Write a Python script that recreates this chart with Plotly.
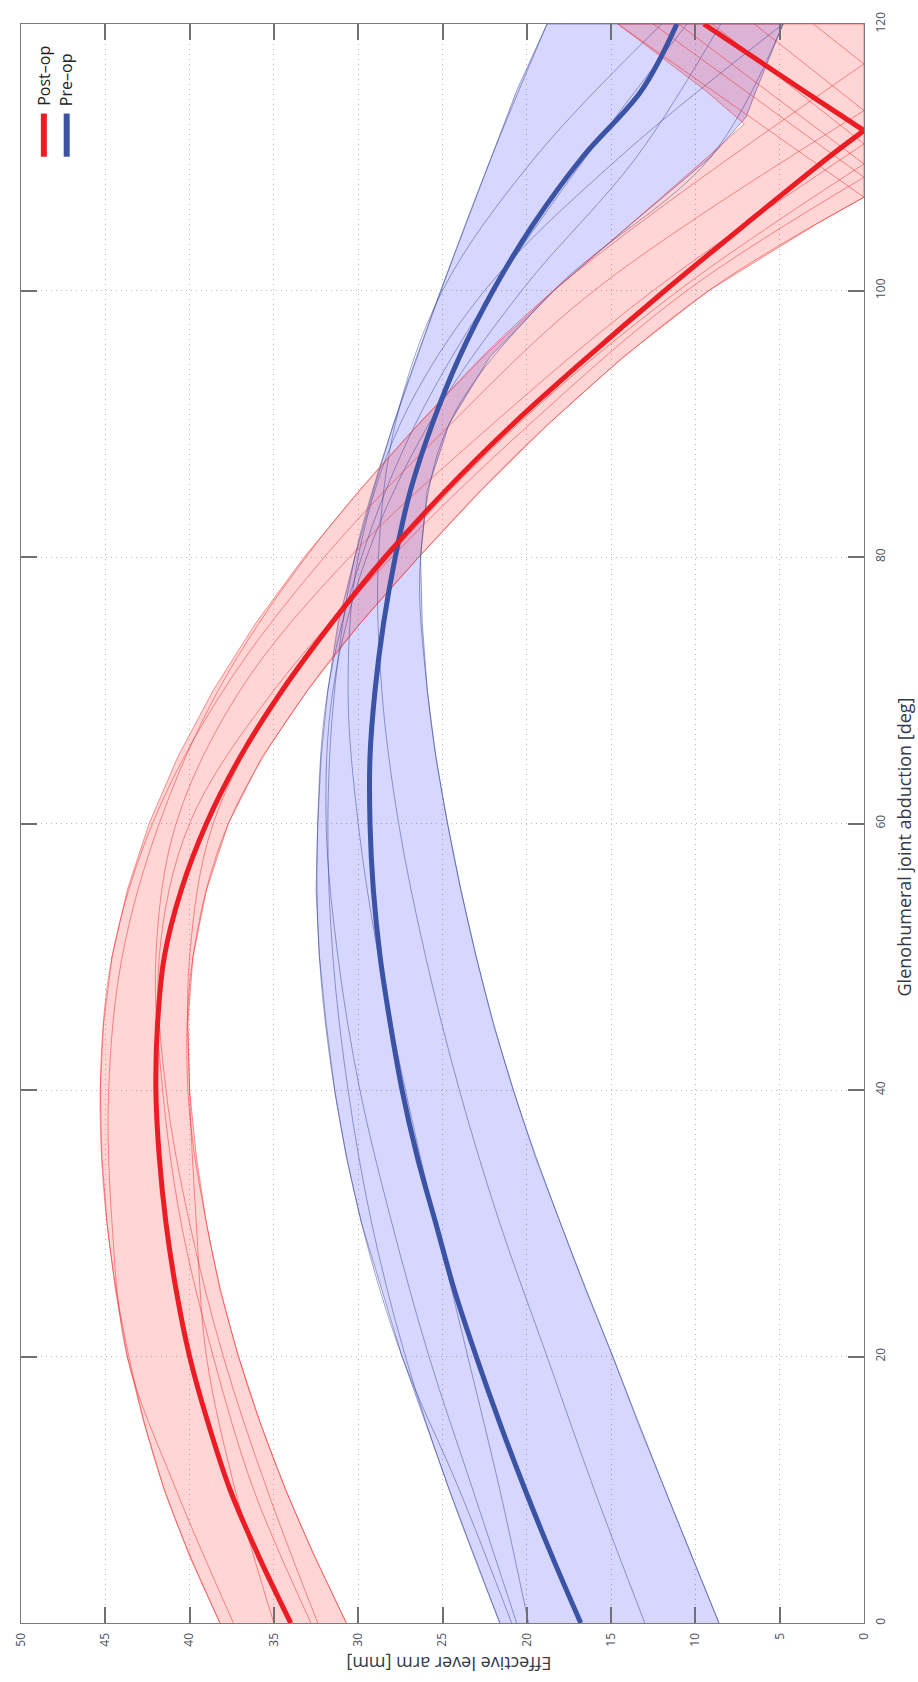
import plotly.graph_objects as go

# ---------------- data ----------------
# abduction angle [deg] on the vertical axis, lever arm [mm] on the horizontal axis

# Post-op band (envelope)
post_band_angle = [0, 5, 10, 15, 20, 25, 30, 35, 40, 45, 50, 55, 60, 65, 70, 75, 80, 85, 90, 95, 100, 105, 107, 110, 112.5, 115, 120]
post_band_hi = [38.2, 40.0, 41.5, 42.7, 43.7, 44.4, 44.9, 45.2, 45.3, 45.1, 44.6, 43.7, 42.4, 40.7, 38.6, 36.1, 33.2, 29.9, 26.4, 22.6, 18.4, 13.8, 12.0, 9.3, 7.1, 9.4, 14.6]
post_band_lo = [30.7, 32.6, 34.3, 35.8, 37.1, 38.2, 39.0, 39.6, 40.0, 40.1, 39.8, 39.0, 37.7, 35.7, 33.0, 29.9, 26.4, 22.7, 18.7, 14.3, 9.2, 2.8, 0.0, 0.0, 0.0, 0.0, 0.0]

# Pre-op band (envelope)
pre_band_angle = [0, 5, 10, 15, 20, 25, 30, 35, 40, 45, 50, 55, 60, 65, 70, 75, 80, 85, 90, 95, 100, 105, 110, 113, 115, 120]
pre_band_hi = [21.6, 23.1, 24.6, 26.0, 27.4, 28.6, 29.8, 30.7, 31.4, 31.9, 32.3, 32.5, 32.4, 32.2, 31.8, 31.2, 30.2, 29.1, 27.9, 26.5, 25.1, 23.6, 22.1, 21.2, 20.6, 18.8]
pre_band_lo = [8.6, 10.2, 11.8, 13.4, 14.9, 16.5, 18.0, 19.5, 20.8, 22.0, 23.0, 23.9, 24.7, 25.4, 25.9, 26.2, 26.3, 25.9, 24.6, 22.2, 18.4, 13.8, 9.1, 7.0, 6.4, 4.8]

# Mean curves
post_mean_angle = [0, 5, 10, 15, 20, 25, 30, 35, 40, 45, 50, 55, 60, 65, 70, 75, 80, 85, 90, 95, 100, 105, 110, 112, 115, 120]
post_mean = [34.0, 35.9, 37.6, 38.9, 40.0, 40.8, 41.4, 41.8, 42.0, 41.9, 41.5, 40.5, 39.0, 37.0, 34.5, 31.6, 28.4, 24.8, 20.8, 16.4, 11.8, 7.0, 2.1, 0.0, 3.6, 9.5]

pre_mean_angle = [0, 5, 10, 15, 20, 25, 30, 35, 40, 45, 50, 55, 60, 65, 70, 75, 80, 85, 90, 95, 100, 105, 110, 115, 120]
pre_mean = [16.8, 18.5, 20.1, 21.6, 23.0, 24.3, 25.4, 26.5, 27.4, 28.1, 28.7, 29.1, 29.3, 29.3, 29.0, 28.5, 27.8, 26.9, 25.6, 24.0, 22.0, 19.6, 16.7, 13.2, 11.1]

# Individual post-op subjects: values at 0..100 deg, angle where lever reaches 0, value at 120 deg
post_subject_angle = [0, 10, 20, 30, 40, 50, 60, 70, 80, 90, 100]
post_subject_1 = [38.2, 41.5, 43.6, 44.9, 45.3, 44.6, 42.2, 38.0, 32.0, 24.5, 16.0]
post_subject_2 = [37.4, 40.8, 43.7, 44.6, 44.8, 44.0, 41.8, 38.3, 33.1, 26.4, 18.4]
post_subject_3 = [35.0, 37.3, 39.0, 39.6, 40.0, 40.0, 38.6, 34.5, 28.2, 20.5, 11.0]
post_subject_4 = [32.8, 36.2, 38.6, 40.5, 41.6, 42.0, 40.8, 37.0, 30.5, 22.0, 12.5]
post_subject_5 = [32.4, 35.4, 38.0, 40.0, 41.4, 41.8, 40.0, 35.0, 28.0, 19.8, 10.5]
post_subject_6 = [30.7, 34.3, 37.1, 39.0, 40.1, 39.8, 37.7, 33.0, 26.4, 18.7, 9.2]
post_subject_zero_angle = [113.5, 117.0, 109.5, 111.0, 108.5, 107.0]
post_subject_end = [6.5, 3.0, 11.0, 9.0, 12.5, 14.6]

# Individual pre-op subjects: values at 0..120 deg
pre_subject_angle = [0, 10, 20, 30, 40, 50, 60, 70, 80, 90, 100, 110, 120]
pre_subject_1 = [21.6, 24.6, 27.2, 29.2, 30.6, 31.5, 31.8, 31.4, 30.2, 27.9, 25.1, 22.1, 18.8]
pre_subject_2 = [20.9, 24.0, 27.4, 29.8, 31.4, 32.3, 32.4, 31.8, 29.8, 26.6, 22.0, 16.5, 10.5]
pre_subject_3 = [20.6, 23.2, 25.8, 28.0, 29.9, 31.2, 31.9, 31.5, 29.5, 25.8, 20.3, 13.5, 8.5]
pre_subject_4 = [19.9, 21.6, 23.5, 25.4, 27.2, 28.8, 30.0, 30.6, 30.0, 27.5, 22.5, 14.5, 4.8]
pre_subject_5 = [13.0, 16.0, 18.8, 21.6, 24.0, 26.0, 27.6, 28.6, 28.8, 27.8, 25.0, 19.5, 12.0]
pre_subject_6 = [8.6, 11.8, 14.9, 18.0, 20.8, 23.0, 24.7, 25.9, 26.3, 24.6, 18.4, 9.1, 4.8]

lever_ticks = [0, 5, 10, 15, 20, 25, 30, 35, 40, 45, 50]
angle_ticks = [0, 20, 40, 60, 80, 100, 120]

# ---------------- styling ----------------
RED = "#ec1c24"
BLUE = "#3a53a4"
RED_FILL = "rgba(255,0,0,0.165)"
BLUE_FILL = "rgba(0,0,255,0.16)"
RED_THIN = "rgba(236,40,40,0.55)"
BLUE_THIN = "rgba(50,70,150,0.55)"
FONT = "Open Sans"

fig = go.Figure()


def band(angle, hi, lo, fill, edge):
    fig.add_trace(go.Scatter(
        x=list(hi) + list(lo)[::-1],
        y=list(angle) + list(angle)[::-1],
        mode="lines", fill="toself", fillcolor=fill,
        line=dict(color=edge, width=0.9), hoverinfo="skip", showlegend=False))


band(pre_band_angle, pre_band_hi, pre_band_lo, BLUE_FILL, BLUE_THIN)
band(post_band_angle, post_band_hi, post_band_lo, RED_FILL, RED_THIN)

# pre-op subject lines
for vals in [pre_subject_1, pre_subject_2, pre_subject_3, pre_subject_4, pre_subject_5, pre_subject_6]:
    fig.add_trace(go.Scatter(x=vals, y=pre_subject_angle, mode="lines",
                             line=dict(color=BLUE_THIN, width=0.9, shape="spline", smoothing=1.0),
                             hoverinfo="skip", showlegend=False))

# post-op subject lines (V shaped where the lever arm reaches zero)
post_subjects = [post_subject_1, post_subject_2, post_subject_3, post_subject_4, post_subject_5, post_subject_6]
for vals, tip, end in zip(post_subjects, post_subject_zero_angle, post_subject_end):
    xs = list(vals) + [0.0, None, 0.0, end]
    ys = list(post_subject_angle) + [tip, None, tip, 120]
    fig.add_trace(go.Scatter(x=xs, y=ys, mode="lines",
                             line=dict(color=RED_THIN, width=0.9, shape="spline", smoothing=1.0),
                             hoverinfo="skip", showlegend=False))

# mean curves
fig.add_trace(go.Scatter(x=pre_mean, y=pre_mean_angle, mode="lines", name="Pre-op",
                         line=dict(color=BLUE, width=5, shape="spline", smoothing=1.0),
                         showlegend=False))

tip_i = post_mean.index(0.0)
px = post_mean[:tip_i + 1] + [None] + post_mean[tip_i:]
py = post_mean_angle[:tip_i + 1] + [None] + post_mean_angle[tip_i:]
fig.add_trace(go.Scatter(x=px, y=py, mode="lines", name="Post-op",
                         line=dict(color=RED, width=5, shape="spline", smoothing=1.0),
                         showlegend=False))

axis_common = dict(
    showline=True, linecolor="#7a7a7a", linewidth=1.3, mirror="ticks",
    ticks="inside", ticklen=16, tickwidth=1.5, tickcolor="#707070",
    showgrid=True, gridcolor="#b9b9b9", gridwidth=1, griddash="1px,4px",
    zeroline=False, tickangle=-90,
    tickfont=dict(family=FONT, size=12, color="#4a5060"),
)

fig.update_layout(
    width=918, height=1682,
    margin=dict(l=15, r=54, t=16, b=59),
    paper_bgcolor="white", plot_bgcolor="white",
    showlegend=False,
    xaxis=dict(range=[50, 0], autorange=False, tickvals=lever_ticks,
               ticklabelstandoff=4, **axis_common),
    yaxis=dict(range=[0, 120], autorange=False, tickvals=angle_ticks, side="right",
               ticklabelstandoff=5, **axis_common),
)

# axis titles (figure is rotated 90 deg)
fig.add_annotation(text="Glenohumeral joint abduction [deg]", xref="paper", yref="paper",
                   x=1.047, y=0.4854, xanchor="center", yanchor="middle", textangle=-90,
                   showarrow=False, font=dict(family=FONT, size=18, color="#333a48"))
fig.add_annotation(text="Effective lever arm [mm]", xref="paper", yref="paper",
                   x=0.508, y=-0.026, xanchor="center", yanchor="middle", textangle=180,
                   showarrow=False, font=dict(family=FONT, size=18, color="#333a48"))

# legend (rotated)
legend_items = [("Post–op", RED, 0.0271), ("Pre–op", BLUE, 0.0542)]
for label, col, xp in legend_items:
    fig.add_shape(type="line", xref="paper", yref="paper", x0=xp, x1=xp, y0=0.917, y1=0.944,
                  line=dict(color=col, width=6))
    fig.add_annotation(text=label, xref="paper", yref="paper", x=xp, y=0.9475,
                       xanchor="center", yanchor="bottom", textangle=-90, showarrow=False,
                       font=dict(family=FONT, size=16, color="#222222"))

fig.write_html("out.html")
